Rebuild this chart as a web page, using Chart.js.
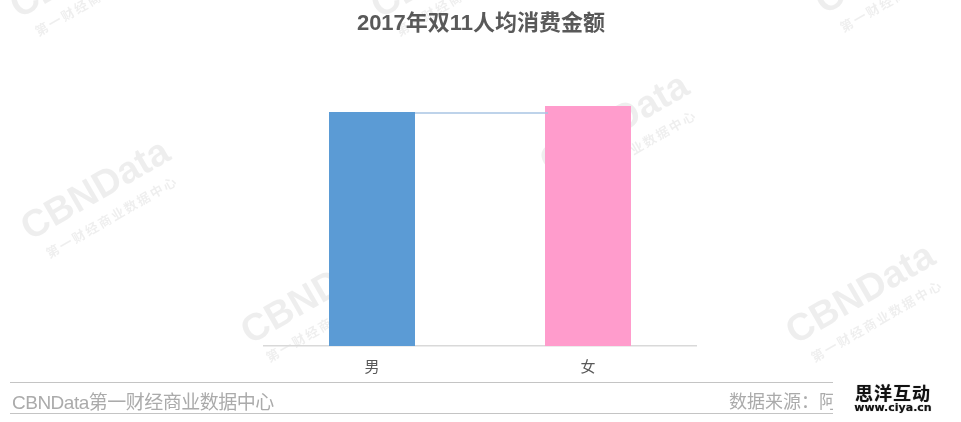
<!DOCTYPE html>
<html>
<head>
<meta charset="utf-8">
<script src="https://cdn.jsdelivr.net/npm/chart.js@4.4.0/dist/chart.umd.min.js"></script>
<style>
  html,body{margin:0;padding:0;background:#fff;}
  #wrap{position:relative;width:961px;height:422px;overflow:hidden;}
  canvas{position:absolute;left:0;top:0;}
  .hl{position:absolute;left:10px;width:823px;height:0;border-top:1px solid #c4c4c4;}
  #foot-l{position:absolute;left:12px;top:387px;font:19px "Liberation Sans","Noto Sans CJK SC",sans-serif;color:#ababab;white-space:nowrap;letter-spacing:-0.5px;}
  #foot-r{position:absolute;left:700px;width:133px;top:387px;overflow:hidden;white-space:nowrap;font:18px "Noto Sans CJK SC",sans-serif;color:#ababab;text-align:left;}
  #foot-r span{position:absolute;left:29px;top:0;}
  #logo{position:absolute;left:845px;top:382px;width:96px;height:34px;text-align:center;background:#fff;}
  #logo .a{font:bold 18px "Noto Sans CJK SC",sans-serif;line-height:20px;color:#111;letter-spacing:1px;text-shadow:0 0 1px #888;}
  #logo .b{font:bold 11px "DejaVu Sans",sans-serif;line-height:11px;color:#111;text-shadow:0 0 1px #888;}
</style>
</head>
<body>
<div id="wrap">
  <canvas id="c" width="961" height="422"></canvas>
  <div class="hl" style="top:382px"></div>
  <div class="hl" style="top:413px"></div>
  <div id="foot-l">CBNData第一财经商业数据中心</div>
  <div id="foot-r" style="height:24px"><span>数据来源：阿里巴巴</span></div>
  <div id="logo"><div class="a">思洋互动</div><div class="b">www.ciya.cn</div></div>
</div>
<script>
const titleText = "2017年双11人均消费金额";
const categories = ["男", "女"];
const values = [975, 1000];
const barColors = ["#5B9BD5", "#FF9CCC"];
const yMax = 1200;

const watermarks = [[795,345],[250,345],[549,175],[30,241],[824,15],[19,19],[380,19]];

const bgPlugin = {
  id: 'bg',
  beforeDraw(chart) {
    const ctx = chart.ctx;
    ctx.save();
    ctx.fillStyle = '#fff';
    ctx.fillRect(0, 0, chart.width, chart.height);
    ctx.fillStyle = 'rgba(0,0,0,0.068)';
    for (const [x, y] of watermarks) {
      ctx.save();
      ctx.translate(x, y);
      ctx.rotate(-30 * Math.PI / 180);
      ctx.font = 'bold 38px "Liberation Sans", sans-serif';
      ctx.textBaseline = 'alphabetic';
      ctx.fillText('CBNData', 0, 0);
      ctx.font = 'bold 13px "Noto Sans CJK SC", sans-serif';
      ctx.letterSpacing = '2px';
      ctx.fillText('第一财经商业数据中心', 8, 25);
      ctx.restore();
    }
    ctx.restore();
  },
  afterDatasetsDraw(chart) {
    const bars = chart.getDatasetMeta(0).data;
    if (bars.length < 2) return;
    const ctx = chart.ctx;
    ctx.save();
    ctx.strokeStyle = '#a9c5e3';
    ctx.lineWidth = 1.5;
    ctx.beginPath();
    const y = bars[0].y + 1;
    ctx.moveTo(bars[0].x + bars[0].width / 2, y);
    ctx.lineTo(bars[1].x - bars[1].width / 2 + 3, y);
    ctx.stroke();
    ctx.restore();
    ctx.save();
    ctx.fillStyle = '#595959';
    ctx.font = 'bold 22px "Liberation Sans", "Noto Sans CJK SC", sans-serif';
    ctx.textAlign = 'center';
    ctx.textBaseline = 'middle';
    ctx.fillText(titleText, 481, 24);
    ctx.restore();
  }
};

new Chart(document.getElementById('c'), {
  type: 'bar',
  data: {
    labels: categories,
    datasets: [{
      data: values,
      backgroundColor: barColors,
      borderWidth: 0,
      barPercentage: 0.8,
      categoryPercentage: 0.4977
    }]
  },
  options: {
    responsive: false,
    animation: false,
    devicePixelRatio: 1,
    layout: { padding: { left: 264, right: 265, top: 58, bottom: 36 } },
    plugins: { legend: { display: false }, title: { display: false }, tooltip: { enabled: false } },
    scales: {
      x: {
        grid: { display: false, drawTicks: false },
        border: { display: true, color: '#d9d9d9', width: 1.5 },
        ticks: { color: '#595959', padding: 11, font: { size: 15, family: '"Noto Sans CJK SC", sans-serif' } }
      },
      y: { display: false, min: 0, max: yMax }
    }
  },
  plugins: [bgPlugin]
});
</script>
</body>
</html>
